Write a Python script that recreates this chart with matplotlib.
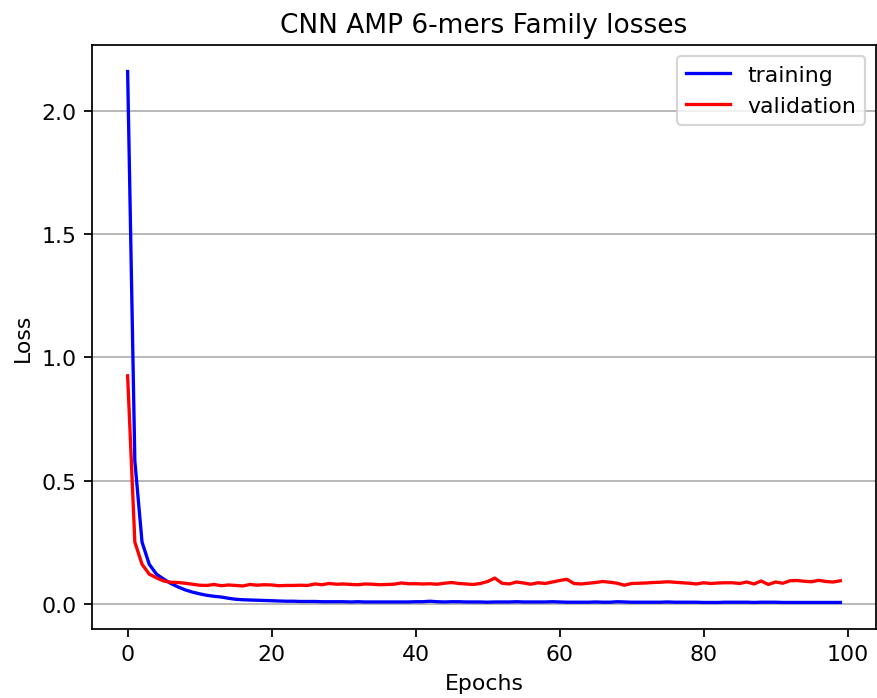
import matplotlib
matplotlib.use("Agg")
import matplotlib.pyplot as plt

epochs = list(range(100))
training = [2.16, 0.58, 0.25, 0.16, 0.12, 0.10, 0.082, 0.068, 0.056, 0.047,
            0.040, 0.034, 0.030, 0.027, 0.022, 0.018, 0.016, 0.015, 0.014, 0.013,
            0.012, 0.011, 0.010, 0.010, 0.009, 0.009, 0.009, 0.008, 0.008, 0.008,
            0.008, 0.007, 0.008, 0.007, 0.007, 0.007, 0.007, 0.007, 0.007, 0.007,
            0.008, 0.008, 0.010, 0.008, 0.007, 0.008, 0.008, 0.007, 0.007, 0.007,
            0.006, 0.007, 0.007, 0.007, 0.008, 0.007, 0.007, 0.007, 0.007, 0.008,
            0.007, 0.006, 0.006, 0.006, 0.006, 0.007, 0.006, 0.006, 0.008, 0.007,
            0.006, 0.006, 0.006, 0.006, 0.006, 0.007, 0.006, 0.006, 0.006, 0.006,
            0.005, 0.005, 0.005, 0.006, 0.006, 0.006, 0.006, 0.005, 0.006, 0.006,
            0.006, 0.005, 0.005, 0.005, 0.005, 0.005, 0.005, 0.005, 0.005, 0.005]
validation = [0.925, 0.25, 0.16, 0.12, 0.105, 0.092, 0.087, 0.086, 0.083, 0.079,
              0.075, 0.074, 0.078, 0.073, 0.076, 0.074, 0.072, 0.078, 0.075, 0.077,
              0.076, 0.073, 0.074, 0.074, 0.075, 0.074, 0.080, 0.077, 0.082, 0.079,
              0.080, 0.078, 0.077, 0.080, 0.079, 0.077, 0.078, 0.079, 0.084, 0.081,
              0.081, 0.080, 0.081, 0.079, 0.083, 0.086, 0.082, 0.080, 0.078, 0.082,
              0.090, 0.104, 0.083, 0.080, 0.088, 0.084, 0.079, 0.085, 0.082, 0.088,
              0.094, 0.099, 0.082, 0.080, 0.083, 0.086, 0.090, 0.087, 0.083, 0.075,
              0.082, 0.083, 0.084, 0.086, 0.087, 0.089, 0.087, 0.085, 0.083, 0.080,
              0.085, 0.082, 0.084, 0.085, 0.085, 0.082, 0.088, 0.080, 0.092, 0.078,
              0.088, 0.083, 0.093, 0.094, 0.091, 0.089, 0.095, 0.090, 0.088, 0.093]

DPI = 158
fig = plt.figure(figsize=(877 / DPI, 699 / DPI), dpi=DPI)
ax = fig.add_axes([92 / 877, 1 - 630 / 699, (876 - 92) / 877, (630 - 46) / 699])
ax.plot(epochs, training, color="blue", label="training")
ax.plot(epochs, validation, color="red", label="validation")
ax.set_title("CNN AMP 6-mers Family losses")
ax.set_xlabel("Epochs")
ax.set_ylabel("Loss")
ax.grid(axis="y")
ax.legend(loc="upper right")
fig.savefig("out.png", dpi=DPI)
